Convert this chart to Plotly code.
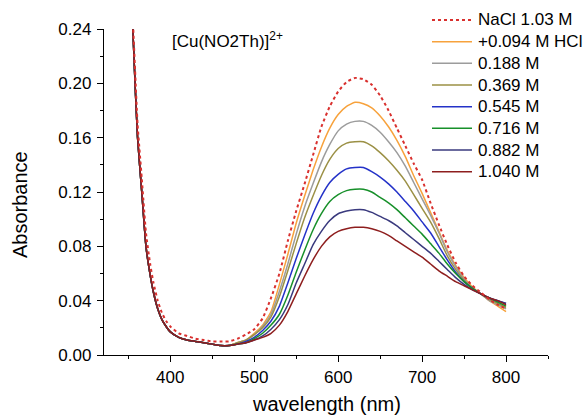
import plotly.graph_objects as go

# Wavelength grid (nm): finer sampling across the steep UV edge, 10 nm steps in the visible band
wl_uv = [350, 355, 358, 361, 366, 371, 376, 380, 385, 390, 395, 400,
         410, 420, 430, 440, 450, 460, 470]
wl_vis = [480, 490, 500, 510, 520, 530, 540, 550, 560, 570, 580, 590, 600,
          610, 620, 630, 640, 650, 660, 670, 680, 690, 700, 710, 720, 730,
          740, 750, 760, 770, 780, 790, 800]

# UV edge (shared by the HCl series) and the NaCl reference
uv_common = [0.300, 0.245, 0.200, 0.160, 0.120, 0.080, 0.059, 0.046, 0.034,
             0.026, 0.021, 0.017, 0.013, 0.011, 0.010, 0.009, 0.008, 0.007, 0.007]
uv_nacl = [0.310, 0.252, 0.210, 0.170, 0.130, 0.090, 0.067, 0.053, 0.040,
           0.031, 0.025, 0.021, 0.016, 0.014, 0.012, 0.011, 0.010, 0.010, 0.010]

# d-d band, one list per solution
vis_nacl = [0.012, 0.015, 0.019, 0.027, 0.042, 0.060, 0.084, 0.106, 0.126, 0.147,
            0.168, 0.183, 0.194, 0.201, 0.204, 0.203, 0.199, 0.191, 0.180, 0.167,
            0.154, 0.141, 0.129, 0.112, 0.096, 0.081, 0.068, 0.058, 0.051, 0.046,
            0.041, 0.037, 0.034]
vis_094 = [0.009, 0.011, 0.016, 0.022, 0.032, 0.052, 0.074, 0.097, 0.117, 0.136,
           0.153, 0.167, 0.177, 0.183, 0.186, 0.185, 0.182, 0.176, 0.168, 0.158,
           0.146, 0.132, 0.119, 0.105, 0.091, 0.077, 0.066, 0.057, 0.050, 0.045,
           0.040, 0.036, 0.032]
vis_188 = [0.009, 0.011, 0.015, 0.021, 0.030, 0.047, 0.067, 0.089, 0.109, 0.126,
           0.142, 0.155, 0.165, 0.170, 0.172, 0.172, 0.169, 0.164, 0.157, 0.149,
           0.139, 0.127, 0.115, 0.103, 0.090, 0.076, 0.065, 0.056, 0.049, 0.045,
           0.040, 0.037, 0.034]
vis_369 = [0.009, 0.011, 0.015, 0.020, 0.028, 0.043, 0.062, 0.082, 0.101, 0.117,
           0.132, 0.144, 0.152, 0.156, 0.157, 0.157, 0.154, 0.149, 0.143, 0.136,
           0.128, 0.118, 0.108, 0.098, 0.086, 0.073, 0.063, 0.055, 0.049, 0.045,
           0.041, 0.038, 0.035]
vis_545 = [0.008, 0.010, 0.013, 0.018, 0.025, 0.036, 0.053, 0.071, 0.088, 0.104,
           0.117, 0.127, 0.133, 0.137, 0.138, 0.138, 0.135, 0.131, 0.126, 0.120,
           0.113, 0.106, 0.098, 0.090, 0.080, 0.070, 0.061, 0.054, 0.049, 0.045,
           0.042, 0.040, 0.038]
vis_716 = [0.008, 0.009, 0.012, 0.016, 0.022, 0.030, 0.044, 0.061, 0.077, 0.092,
           0.104, 0.113, 0.118, 0.121, 0.122, 0.122, 0.120, 0.116, 0.112, 0.107,
           0.101, 0.095, 0.089, 0.082, 0.075, 0.067, 0.060, 0.054, 0.049, 0.045,
           0.042, 0.039, 0.036]
vis_882 = [0.008, 0.009, 0.011, 0.014, 0.019, 0.026, 0.037, 0.053, 0.067, 0.081,
           0.091, 0.099, 0.104, 0.106, 0.107, 0.107, 0.105, 0.102, 0.099, 0.095,
           0.090, 0.085, 0.080, 0.075, 0.069, 0.063, 0.057, 0.052, 0.048, 0.045,
           0.042, 0.040, 0.038]
vis_1040 = [0.008, 0.009, 0.011, 0.013, 0.016, 0.022, 0.032, 0.045, 0.058, 0.070,
            0.080, 0.087, 0.091, 0.093, 0.094, 0.094, 0.093, 0.091, 0.088, 0.084,
            0.080, 0.076, 0.072, 0.067, 0.062, 0.058, 0.054, 0.051, 0.048, 0.045,
            0.042, 0.040, 0.037]

labels = ["NaCl 1.03 M", "+0.094 M HCl", "0.188 M", "0.369 M",
          "0.545 M", "0.716 M", "0.882 M", "1.040 M"]
colors = ["#D9302E", "#F7A23C", "#9C9C9C", "#9B9045",
          "#2432C8", "#17902A", "#3A3A7E", "#8E1E1E"]
uv_parts = [uv_nacl] + [uv_common] * 7
vis_parts = [vis_nacl, vis_094, vis_188, vis_369,
             vis_545, vis_716, vis_882, vis_1040]

FONT = "Liberation Sans, Arial, sans-serif"
wl = wl_uv + wl_vis


def line_style(i):
    return dict(color=colors[i], width=2 if i == 0 else 1.5,
                dash="dot" if i == 0 else "solid")


fig = go.Figure()
# draw the acid series first so the dotted NaCl reference sits on top
for i in list(range(1, 8)) + [0]:
    fig.add_trace(go.Scatter(
        x=wl, y=uv_parts[i] + vis_parts[i], mode="lines", name=labels[i],
        line=dict(**line_style(i), shape="spline", smoothing=0.5),
        showlegend=False,
    ))

axis_common = dict(
    showline=True, linecolor="black", linewidth=1.3, mirror=False,
    ticks="outside", ticklen=6, tickwidth=1.3, tickcolor="black",
    showgrid=False, zeroline=False, automargin=False,
    tickfont=dict(family=FONT, size=17, color="black"),
)

L, R, T, B, W, H = 104, 37, 29, 63, 585, 418
PW, PH = W - L - R, H - T - B

fig.update_layout(
    width=W, height=H,
    margin=dict(l=L, r=R, t=T, b=B),
    paper_bgcolor="white", plot_bgcolor="white",
    font=dict(family=FONT, color="black"),
    xaxis=dict(range=[321, 850], tick0=0, dtick=100,
               minor=dict(ticks="outside", ticklen=3, tickwidth=1.3,
                          tickcolor="black", dtick=50, tick0=0),
               **axis_common),
    yaxis=dict(range=[0, 0.24], tick0=0, dtick=0.04, tickformat=".2f",
               minor=dict(ticks="outside", ticklen=3, tickwidth=1.3,
                          tickcolor="black", dtick=0.02, tick0=0),
               ticklabelstandoff=2,
               **axis_common),
    showlegend=False,
)


def px_x(p):
    return (p - L) / PW


def px_y(p):
    return (H - B - p) / PH


# key in the upper right corner: short line sample followed by its label
row_y = [20, 41.7, 63.3, 85, 106.7, 128.3, 150, 171.7]
for i, yy in enumerate(row_y):
    fig.add_shape(type="line", xref="paper", yref="paper",
                  x0=px_x(432), x1=px_x(472), y0=px_y(yy), y1=px_y(yy),
                  line=line_style(i))
    fig.add_annotation(text=labels[i], xref="paper", yref="paper",
                       x=px_x(476), y=px_y(yy), xanchor="left", yanchor="middle",
                       showarrow=False,
                       font=dict(family=FONT, size=17, color="black"))

fig.add_annotation(text="[Cu(NO2Th)]<sup>2+</sup>", xref="paper", yref="paper",
                   x=px_x(170), y=px_y(40),
                   xanchor="left", yanchor="middle", showarrow=False,
                   font=dict(family=FONT, size=17, color="black"))
# axis titles
fig.add_annotation(text="Absorbance", xref="paper", yref="paper",
                   x=px_x(20), y=px_y(205), textangle=-90,
                   xanchor="center", yanchor="middle", showarrow=False,
                   font=dict(family=FONT, size=20, color="black"))
fig.add_annotation(text="wavelength (nm)", xref="paper", yref="paper",
                   x=0.5, y=px_y(404),
                   xanchor="center", yanchor="middle", showarrow=False,
                   font=dict(family=FONT, size=20, color="black"))

fig.write_html("out.html")
